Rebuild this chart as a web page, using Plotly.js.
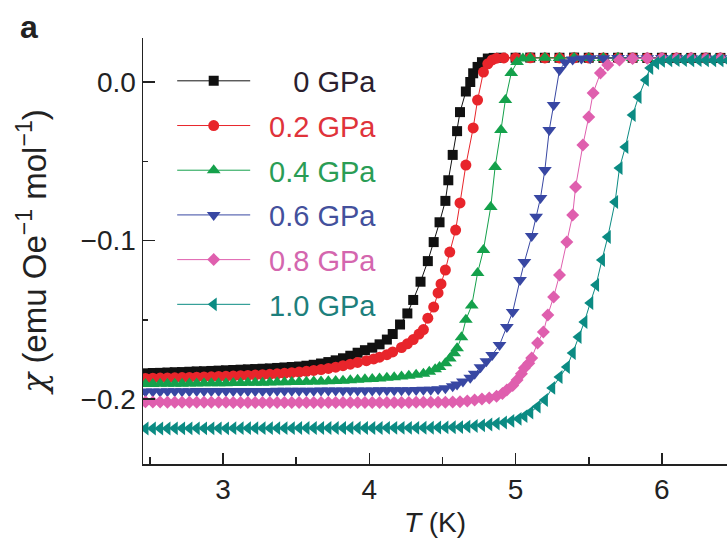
<!DOCTYPE html>
<html><head><meta charset="utf-8">
<script src="https://cdn.plot.ly/plotly-3.0.1.min.js"></script>
<style>html,body{margin:0;padding:0;background:#fff}#chart{width:727px;height:544px}</style>
</head><body><div id="chart"></div>
<script>
// ---- data ----
const legendLabels = ['0 GPa', '0.2 GPa', '0.4 GPa', '0.6 GPa', '0.8 GPa', '1.0 GPa'];

const T_0GPa = [2.47,2.52,2.57,2.62,2.67,2.72,2.77,2.82,2.87,2.92,2.97,3.02,3.07,3.12,3.17,3.22,3.27,3.32,3.37,3.42,3.47,3.52,3.57,3.62,3.67,3.72,3.77,3.82,3.87,3.92,
  3.97,4.02,4.07,4.12,4.16,4.21,4.26,4.30,4.35,4.40,4.44,4.48,4.52,4.54,4.57,4.60,4.62,4.66,4.69,4.71,4.74,4.77,4.81,4.85,4.90,
  5.00,5.10,5.20,5.30,5.40,5.50,5.60,5.70,5.80,5.90,6.00,6.10,6.20,6.30,6.40];
const chi_0GPa = [-0.1838,-0.1836,-0.1835,-0.1833,-0.1831,-0.1830,-0.1828,-0.1826,-0.1825,-0.1823,-0.1821,-0.1819,-0.1817,-0.1815,-0.1813,-0.1811,-0.1809,-0.1807,-0.1804,-0.1801,-0.1798,-0.1795,-0.1790,-0.1784,-0.1776,-0.1767,-0.1756,-0.1743,-0.1727,-0.1708,
  -0.1692,-0.1676,-0.1655,-0.1625,-0.1590,-0.1530,-0.1460,-0.1375,-0.1260,-0.1130,-0.1010,-0.0885,-0.0750,-0.0620,-0.0460,-0.0310,-0.0190,-0.0060,0.0000,0.0055,0.0095,0.0125,0.0148,0.0152,0.0153,
  0.0153,0.0154,0.0153,0.0153,0.0154,0.0153,0.0152,0.0153,0.0153,0.0152,0.0153,0.0152,0.0152,0.0153,0.0152];

const T_02GPa = [2.47,2.52,2.57,2.62,2.67,2.72,2.77,2.82,2.87,2.92,2.97,3.02,3.07,3.12,3.17,3.22,3.27,3.32,3.37,3.42,3.47,3.52,3.57,3.62,3.67,3.72,3.77,3.82,3.87,3.92,
  3.98,4.03,4.07,4.12,4.16,4.22,4.26,4.30,4.34,4.37,4.40,4.44,4.47,4.49,4.52,4.55,4.59,4.62,4.66,4.71,4.74,4.78,4.81,4.84,4.87,4.92,
  5.00,5.10,5.20,5.30,5.40,5.50,5.60,5.70,5.80,5.90,6.00,6.10,6.20,6.30,6.40];
const chi_02GPa = [-0.1870,-0.1869,-0.1868,-0.1867,-0.1866,-0.1865,-0.1864,-0.1862,-0.1861,-0.1860,-0.1858,-0.1857,-0.1855,-0.1853,-0.1851,-0.1849,-0.1847,-0.1844,-0.1841,-0.1838,-0.1834,-0.1830,-0.1825,-0.1820,-0.1814,-0.1807,-0.1799,-0.1790,-0.1780,-0.1769,
  -0.1758,-0.1747,-0.1736,-0.1720,-0.1703,-0.1675,-0.1652,-0.1625,-0.1590,-0.1562,-0.1490,-0.1420,-0.1331,-0.1274,-0.1186,-0.1073,-0.0934,-0.0763,-0.0524,-0.0290,-0.0114,0.0063,0.0115,0.0139,0.0150,0.0152,
  0.0152,0.0153,0.0152,0.0152,0.0153,0.0152,0.0152,0.0151,0.0152,0.0152,0.0151,0.0152,0.0151,0.0151,0.0152];

const T_04GPa = [2.47,2.52,2.57,2.62,2.67,2.72,2.77,2.82,2.87,2.92,2.97,3.02,3.07,3.12,3.17,3.22,3.27,3.32,3.37,3.42,3.47,3.52,3.57,3.62,3.67,3.72,3.77,3.82,3.87,3.92,
  3.97,4.02,4.07,4.12,4.17,4.22,4.27,4.32,4.37,
  4.41,4.45,4.48,4.52,4.55,4.58,4.60,4.63,4.66,4.70,4.74,4.78,4.83,4.86,4.90,4.93,4.97,5.01,5.05,5.10,
  5.20,5.30,5.40,5.50,5.60,5.70,5.80,5.90,6.00,6.10,6.20,6.30,6.40];
const chi_04GPa = [-0.1905,-0.1905,-0.1904,-0.1904,-0.1903,-0.1903,-0.1902,-0.1902,-0.1901,-0.1901,
  -0.1900,-0.1900,-0.1899,-0.1899,-0.1898,-0.1898,-0.1897,-0.1896,-0.1895,-0.1894,
  -0.1893,-0.1892,-0.1891,-0.1890,-0.1889,-0.1888,-0.1886,-0.1884,-0.1882,-0.1879,
  -0.1876,-0.1873,-0.1870,-0.1866,-0.1862,-0.1858,-0.1853,-0.1847,-0.1840,
  -0.1828,-0.1812,-0.1798,-0.1775,-0.1745,-0.1712,-0.1680,-0.1610,-0.1500,-0.1410,-0.1205,-0.1060,-0.0789,-0.0536,-0.0303,-0.0114,0.0057,0.0126,0.0148,0.0152,
  0.0153,0.0152,0.0153,0.0152,0.0152,0.0153,0.0152,0.0152,0.0151,0.0152,0.0152,0.0151,0.0151];

const T_06GPa = [2.47,2.52,2.57,2.62,2.67,2.72,2.77,2.82,2.87,2.92,2.97,3.02,3.07,3.12,3.17,3.22,3.27,3.32,3.37,3.42,3.47,3.52,3.57,3.62,3.67,3.72,3.77,3.82,3.87,3.92,
  3.97,4.02,4.07,4.12,4.17,4.22,4.27,4.32,4.37,4.42,4.47,4.52,4.57,
  4.60,4.64,4.69,4.72,4.76,4.80,4.84,4.89,4.94,4.98,5.03,5.06,5.11,5.14,5.17,5.20,5.23,5.26,5.30,5.34,5.39,5.45,5.51,
  5.60,5.70,5.80,5.90,6.00,6.10,6.20,6.30,6.40];
const chi_06GPa = [-0.1952,-0.1952,-0.1952,-0.1951,-0.1951,-0.1951,-0.1951,-0.1950,-0.1950,-0.1950,
  -0.1950,-0.1950,-0.1950,-0.1949,-0.1949,-0.1949,-0.1949,-0.1949,-0.1948,-0.1948,
  -0.1948,-0.1948,-0.1948,-0.1948,-0.1947,-0.1947,-0.1947,-0.1947,-0.1946,-0.1946,
  -0.1946,-0.1946,-0.1945,-0.1945,-0.1945,-0.1944,-0.1944,-0.1943,-0.1942,-0.1941,
  -0.1938,-0.1932,-0.1920,
  -0.1908,-0.1890,-0.1866,-0.1840,-0.1800,-0.1762,-0.1722,-0.1659,-0.1546,-0.1451,-0.1249,-0.1136,-0.0972,-0.0850,-0.0732,-0.0555,-0.0303,-0.0145,0.0076,0.0125,0.0142,0.0148,0.0150,
  0.0150,0.0151,0.0150,0.0150,0.0151,0.0150,0.0150,0.0149,0.0150];

const T_08GPa = [2.47,2.52,2.57,2.62,2.67,2.72,2.77,2.82,2.87,2.92,2.97,3.02,3.07,3.12,3.17,3.22,3.27,3.32,3.37,3.42,3.47,3.52,3.57,3.62,3.67,3.72,3.77,3.82,3.87,3.92,
  3.97,4.02,4.07,4.12,4.17,4.22,4.27,4.32,4.37,4.42,4.47,4.52,4.57,4.62,4.67,4.72,4.77,4.82,4.87,
  4.91,4.94,4.98,5.01,5.04,5.06,5.09,5.11,5.15,5.19,5.22,5.26,5.30,5.35,5.39,5.41,5.46,5.50,5.53,5.58,5.63,5.71,5.80,5.90,
  6.00,6.10,6.20,6.30,6.40];
const chi_08GPa = [-0.2018,-0.2019,-0.2019,-0.2020,-0.2020,-0.2020,-0.2021,-0.2021,-0.2021,-0.2021,
  -0.2021,-0.2021,-0.2022,-0.2022,-0.2022,-0.2022,-0.2022,-0.2022,-0.2022,-0.2022,
  -0.2022,-0.2022,-0.2022,-0.2022,-0.2022,-0.2022,-0.2022,-0.2022,-0.2022,-0.2022,
  -0.2022,-0.2022,-0.2022,-0.2022,-0.2022,-0.2022,-0.2022,-0.2021,-0.2021,-0.2021,
  -0.2020,-0.2020,-0.2019,-0.2017,-0.2012,-0.2007,-0.2000,-0.1993,-0.1983,
  -0.1965,-0.1943,-0.1915,-0.1880,-0.1840,-0.1804,-0.1775,-0.1741,-0.1647,-0.1577,-0.1470,-0.1356,-0.1218,-0.1009,-0.0839,-0.0662,-0.0397,-0.0221,-0.0069,0.0057,0.0107,0.0139,0.0148,0.0150,
  0.0150,0.0149,0.0150,0.0149,0.0149];

const T_10GPa = [2.47,2.52,2.57,2.62,2.67,2.72,2.77,2.82,2.87,2.92,2.97,3.02,3.07,3.12,3.17,3.22,3.27,3.32,3.37,3.42,3.47,3.52,3.57,3.62,3.67,3.72,3.77,3.82,3.87,3.92,
  3.97,4.02,4.07,4.12,4.17,4.22,4.27,4.32,4.37,4.42,4.47,4.52,4.57,4.62,4.67,4.72,4.77,4.82,4.87,4.92,4.97,5.02,
  5.06,5.10,5.15,5.20,5.25,5.30,5.35,5.39,5.43,5.47,5.51,5.55,5.59,5.63,5.68,5.71,5.75,5.80,5.84,5.89,5.92,5.96,6.00,6.05,
  6.10,6.15,6.20,6.25,6.30,6.35,6.40,6.45];
const chi_10GPa = [-0.2186,-0.2186,-0.2186,-0.2186,-0.2185,-0.2185,-0.2185,-0.2185,-0.2185,-0.2185,
  -0.2185,-0.2185,-0.2184,-0.2184,-0.2184,-0.2184,-0.2184,-0.2184,-0.2184,-0.2184,
  -0.2184,-0.2183,-0.2183,-0.2183,-0.2183,-0.2183,-0.2183,-0.2183,-0.2183,-0.2183,
  -0.2183,-0.2183,-0.2183,-0.2182,-0.2182,-0.2182,-0.2182,-0.2182,-0.2181,-0.2181,
  -0.2180,-0.2179,-0.2178,-0.2177,-0.2174,-0.2170,-0.2166,-0.2161,-0.2155,-0.2148,
  -0.2138,-0.2125,
  -0.2108,-0.2085,-0.2048,-0.2006,-0.1930,-0.1861,-0.1798,-0.1710,-0.1609,-0.1514,-0.1394,-0.1281,-0.1123,-0.0978,-0.0757,-0.0543,-0.0410,-0.0208,-0.0095,0.0013,0.0088,0.0120,0.0133,0.0137,
  0.0138,0.0138,0.0137,0.0138,0.0137,0.0137,0.0136,0.0136];

// ---- styles ----
const markerColors = ['#111111', '#e8252b', '#14a14b', '#3847a3', '#df5fae', '#0b8b83'];
const labelColors  = ['#2b1e2e', '#e0333a', '#2a9d55', '#43509c', '#d466ae', '#1d7f7c'];
const symbols = ['square', 'circle', 'triangle-up', 'triangle-down', 'diamond', 'triangle-left'];
const sizes = [10, 11, 12, 12, 10, 12];
// padding so that the legend labels line up on the right, as in the original
const labelPads = ['\u00a0\u2009\u00a0\u00a0\u00a0', '\u00a0\u2009', '\u00a0\u2009', '\u00a0\u2009', '\u00a0\u2009', '\u00a0\u2009'];

const Ts = [T_0GPa, T_02GPa, T_04GPa, T_06GPa, T_08GPa, T_10GPa];
const Cs = [chi_0GPa, chi_02GPa, chi_04GPa, chi_06GPa, chi_08GPa, chi_10GPa];

const traces = Ts.map((t, i) => ({
  x: t, y: Cs[i], type: 'scatter', mode: 'lines+markers',
  name: labelPads[i] + '<span style="color:' + labelColors[i] + '">' + legendLabels[i] + '</span>',
  legendgroup: 'g' + i,
  line: {color: markerColors[i], width: 1},
  marker: {symbol: symbols[i], size: sizes[i], color: markerColors[i]},
  cliponaxis: true
}));

const axisCommon = {
  showline: true, linecolor: '#222', linewidth: 1.5, mirror: false,
  ticks: 'inside', tickwidth: 1.5, tickcolor: '#222',
  showgrid: false, zeroline: false, tickfont: {size: 28, color: '#222'}
};

const layout = {
  width: 727, height: 544,
  margin: {l: 143, r: 0, t: 38, b: 80, pad: 0},
  paper_bgcolor: '#fff', plot_bgcolor: '#fff',
  font: {family: 'Liberation Sans, Arial, Helvetica, sans-serif', color: '#222', size: 28},
  showlegend: true,
  legend: {x: 0.05, y: 0.959, xanchor: 'left', yanchor: 'top', bgcolor: 'rgba(0,0,0,0)',
           font: {size: 29}, itemwidth: 73, tracegroupgap: 4, traceorder: 'grouped'},
  xaxis: Object.assign({}, axisCommon, {
    range: [2.453, 6.445], dtick: 1, tick0: 0, ticklen: 11,
    minor: {dtick: 0.5, tick0: 0, ticks: 'inside', ticklen: 7, tickwidth: 1.5, tickcolor: '#222'},
    title: {text: '<i>T</i> (K)', font: {size: 28, color: '#222'}, standoff: 8}
  }),
  yaxis: Object.assign({}, axisCommon, {
    range: [-0.241, 0.02776], dtick: 0.1, tick0: 0, tickformat: '.1f', ticklen: 12,
    minor: {dtick: 0.05, tick0: 0, ticks: 'inside', ticklen: 5, tickwidth: 1.5, tickcolor: '#222'},
    title: {text: '\u00a0\u00a0\u00a0\u00a0<span style="font-family:\'DejaVu Serif\';font-style:italic">χ</span> (emu Oe<sup>−1</sup> mol<sup>−1</sup>)',
            font: {size: 33, color: '#222'}, standoff: 24}
  }),
  annotations: [{
    text: '<b>a</b>', xref: 'paper', yref: 'paper', x: -0.214, y: 1.026,
    xanchor: 'left', yanchor: 'middle', showarrow: false, font: {size: 32, color: '#222'}
  }]
};

Plotly.newPlot('chart', traces, layout, {displayModeBar: false, staticPlot: true});
</script>
</body></html>
